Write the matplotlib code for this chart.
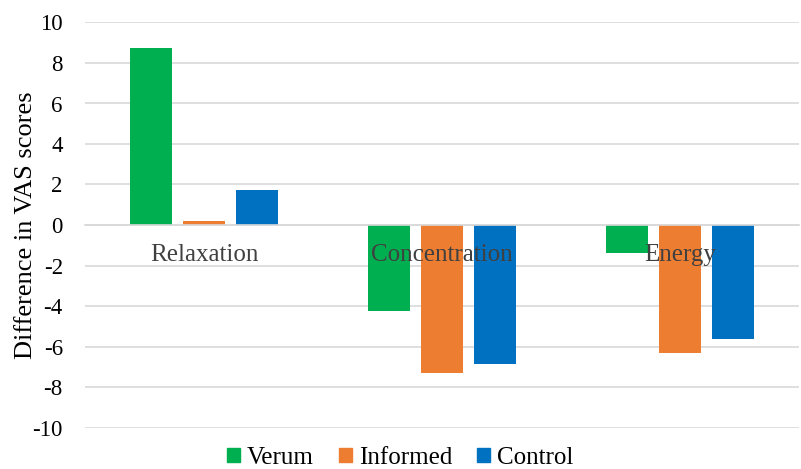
import numpy as np
import matplotlib.pyplot as plt
from matplotlib.patches import Patch

# Differences in VAS scores per dimension
categories = ['Relaxation', 'Concentration', 'Energy']
verum = [8.76, -4.23, -1.37]
informed = [0.2, -7.32, -6.33]
control = [1.71, -6.86, -5.61]
series_names = ['Verum', 'Informed', 'Control']
colors = ['#00B050', '#ED7D31', '#0070C0']

plt.rcParams['font.family'] = ['Liberation Serif', 'DejaVu Serif']
plt.rcParams['axes.unicode_minus'] = False

fig = plt.figure(figsize=(8.01, 4.69), dpi=100)
ax = fig.add_axes([85 / 801, 41.5 / 469, 714 / 801, 405 / 469])

x = np.arange(len(categories))
w = 0.176
step = 0.223
for i, (vals, c) in enumerate(zip([verum, informed, control], colors)):
    ax.bar(x + (i - 1) * step, vals, w, color=c, zorder=2)

ax.set_xlim(-0.5, 2.5)
ax.set_ylim(-10, 10)
ax.set_yticks(np.arange(-10, 11, 2))
ax.tick_params(axis='y', length=0, pad=16, labelsize=16.5, labelcolor='black')
ax.grid(axis='y', color='#D9D9D9', linewidth=1.2)
ax.set_axisbelow(True)

for s in ['top', 'right', 'left']:
    ax.spines[s].set_visible(False)
ax.spines['bottom'].set_position(('data', 0))
ax.spines['bottom'].set_color('#D9D9D9')
ax.spines['bottom'].set_linewidth(1.2)
ax.set_xticks(x)
ax.set_xticklabels(categories)
ax.tick_params(axis='x', length=0, pad=14, labelsize=18, labelcolor='#404040')
ax.xaxis.set_zorder(3)

ax.set_ylabel('Difference in VAS scores', fontsize=19)
ax.yaxis.set_label_coords(-0.067, 0.5)

handles = [Patch(color=c, label=n) for c, n in zip(colors, series_names)]
fig.legend(handles=handles, loc='center', bbox_to_anchor=(0.5, 0.024), ncol=3,
           frameon=False, fontsize=18, handlelength=0.5, handleheight=0.5,
           handletextpad=0.3, columnspacing=1.0, borderaxespad=0)

fig.savefig('out.png', dpi=100)
